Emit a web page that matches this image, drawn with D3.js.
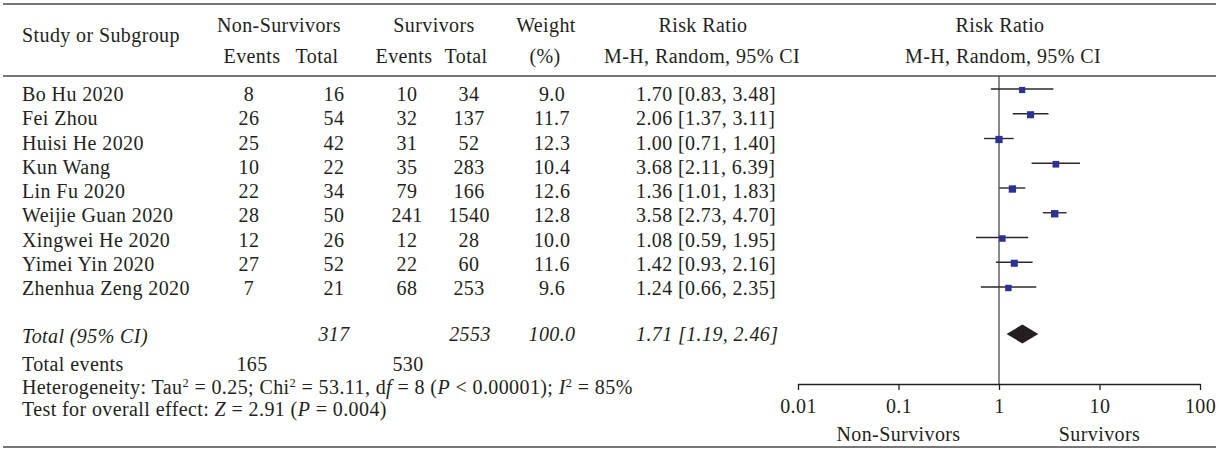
<!DOCTYPE html>
<html><head><meta charset="utf-8">
<script src="https://cdn.jsdelivr.net/npm/d3@7"></script>
<style>
html,body{margin:0;padding:0;background:#fff;}
svg text{font-family:"Liberation Serif","Times New Roman",serif;fill:#231f20;letter-spacing:0.4px;}
</style></head>
<body><svg id="c" width="1219" height="449"></svg>
<script>
const studies = ["Bo Hu 2020","Fei Zhou","Huisi He 2020","Kun Wang","Lin Fu 2020","Weijie Guan 2020","Xingwei He 2020","Yimei Yin 2020","Zhenhua Zeng 2020"];
const nsEvents = [8,26,25,10,22,28,12,27,7];
const nsTotal = [16,54,42,22,34,50,26,52,21];
const sEvents = [10,32,31,35,79,241,12,22,68];
const sTotal = [34,137,52,283,166,1540,28,60,253];
const weights = [9.0,11.7,12.3,10.4,12.6,12.8,10.0,11.6,9.6];
const rr = [1.70,2.06,1.00,3.68,1.36,3.58,1.08,1.42,1.24];
const rrLo = [0.83,1.37,0.71,2.11,1.01,2.73,0.59,0.93,0.66];
const rrHi = [3.48,3.11,1.40,6.39,1.83,4.70,1.95,2.16,2.35];
const totalCounts = [317,2553];
const totalEvents = [165,530];
const totalWeight = 100.0;
const pooled = [1.71,1.19,2.46];
const tickValues = [0.01,0.1,1,10,100];
const tickLabels = ["0.01","0.1","1","10","100"];

const svg = d3.select("#c");
const FS = 20;
const ink = "#231f20";
const f1 = d3.format(".1f"), f2 = d3.format(".2f");

const x = d3.scaleLog().domain([0.01,100]).range([798,1200]);
const y = d3.scaleLinear().domain([0,8]).range([89,287]);
const yText = d3.scaleLinear().domain([0,8]).range([101,295]);
const sz = d3.scaleSqrt().domain([0,12.8]).range([0,7.4]);
const yTot = 334;
const yAxis = 384;

// rules
[4,76,447].forEach(v=>svg.append("line").attr("x1",3).attr("x2",1216).attr("y1",v).attr("y2",v)
  .attr("stroke","#4a4a4a").attr("stroke-width",1.6));

function txt(xp,yp,s,anchor,italic){
  return svg.append("text").attr("x",xp).attr("y",yp).attr("text-anchor",anchor||"start")
   .attr("font-size",FS).attr("font-style",italic?"italic":"normal").text(s);
}
// headers
txt(22,42,"Study or Subgroup");
txt(279,32,"Non-Survivors","middle");
txt(252,63,"Events","middle");
txt(317,63,"Total","middle");
txt(434,32,"Survivors","middle");
txt(404,63,"Events","middle");
txt(466,63,"Total","middle");
txt(546,32,"Weight","middle");
txt(545,63,"(%)","middle");
txt(703,32,"Risk Ratio","middle");
txt(702,63,"M-H, Random, 95% CI","middle");
txt(1000,32,"Risk Ratio","middle");
txt(1003,63,"M-H, Random, 95% CI","middle");

// rows
studies.forEach((s,i)=>{
  const yb = yText(i);
  txt(22,yb,s);
  txt(249,yb,nsEvents[i],"middle");
  txt(334,yb,nsTotal[i],"middle");
  txt(407,yb,sEvents[i],"middle");
  txt(469,yb,sTotal[i],"middle");
  txt(552,yb,f1(weights[i]),"middle");
  txt(636,yb,`${f2(rr[i])} [${f2(rrLo[i])}, ${f2(rrHi[i])}]`);
});

// totals
txt(22,343,"Total (95% CI)","start",true);
txt(334,341,totalCounts[0],"middle",true);
txt(470,341,totalCounts[1],"middle",true);
txt(552,341,f1(totalWeight),"middle",true);
txt(636,341,`${f2(pooled[0])} [${f2(pooled[1])}, ${f2(pooled[2])}]`,"start",true);
txt(22,371,"Total events");
txt(252,371,totalEvents[0],"middle");
txt(408,371,totalEvents[1],"middle");

function rich(xp,yp,parts){
  const t = svg.append("text").attr("x",xp).attr("y",yp).attr("font-size",FS);
  parts.forEach(p=>{
    const ts = t.append("tspan").text(p[0]);
    if(p[1]==="i") ts.attr("font-style","italic");
    if(p[1]==="s") ts.attr("baseline-shift","super").attr("font-size",FS*0.62);
  });
}
rich(22,394,[["Heterogeneity: Tau"],["2","s"],[" = 0.25; Chi"],["2","s"],[" = 53.11, d"],["f","i"],[" = 8 ("],["P","i"],[" < 0.00001); "],["I","i"],["2","s"],[" = 85%"]]);
rich(22,416,[["Test for overall effect: "],["Z","i"],[" = 2.91 ("],["P","i"],[" = 0.004)"]]);

// reference line
svg.append("line").attr("x1",x(1)).attr("x2",x(1)).attr("y1",76).attr("y2",yAxis)
  .attr("stroke","#4a4a4a").attr("stroke-width",1.3);

// CIs and squares
const g = svg.append("g");
studies.forEach((s,i)=>{
  g.append("line").attr("x1",x(rrLo[i])).attr("x2",x(rrHi[i])).attr("y1",y(i)).attr("y2",y(i))
   .attr("stroke","#2a2a2a").attr("stroke-width",1.4);
  const w = sz(weights[i]);
  g.append("rect").attr("x",x(rr[i])-w/2).attr("y",y(i)-w/2+1).attr("width",w).attr("height",w)
   .attr("fill","#2e3192");
});
// diamond
svg.append("path").attr("d",`M${x(pooled[1])},${yTot}L${x(pooled[0])},${yTot-9.5}L${x(pooled[2])},${yTot}L${x(pooled[0])},${yTot+9.5}Z`)
  .attr("fill",ink);

// axis
const ax = svg.append("g").attr("transform",`translate(0,${yAxis})`)
  .call(d3.axisBottom(x).tickValues(tickValues).tickFormat((d,i)=>tickLabels[i]).tickSize(6).tickSizeOuter(0).tickPadding(9));
ax.select(".domain").attr("stroke",ink).attr("stroke-width",1.3);
ax.selectAll(".tick line").attr("stroke",ink).attr("stroke-width",1.3);
ax.selectAll(".tick text").attr("font-size",FS).attr("font-family","Liberation Serif").attr("fill",ink);

txt(x(0.1),441,"Non-Survivors","middle");
txt(x(10),441,"Survivors","middle");
</script></body></html>
